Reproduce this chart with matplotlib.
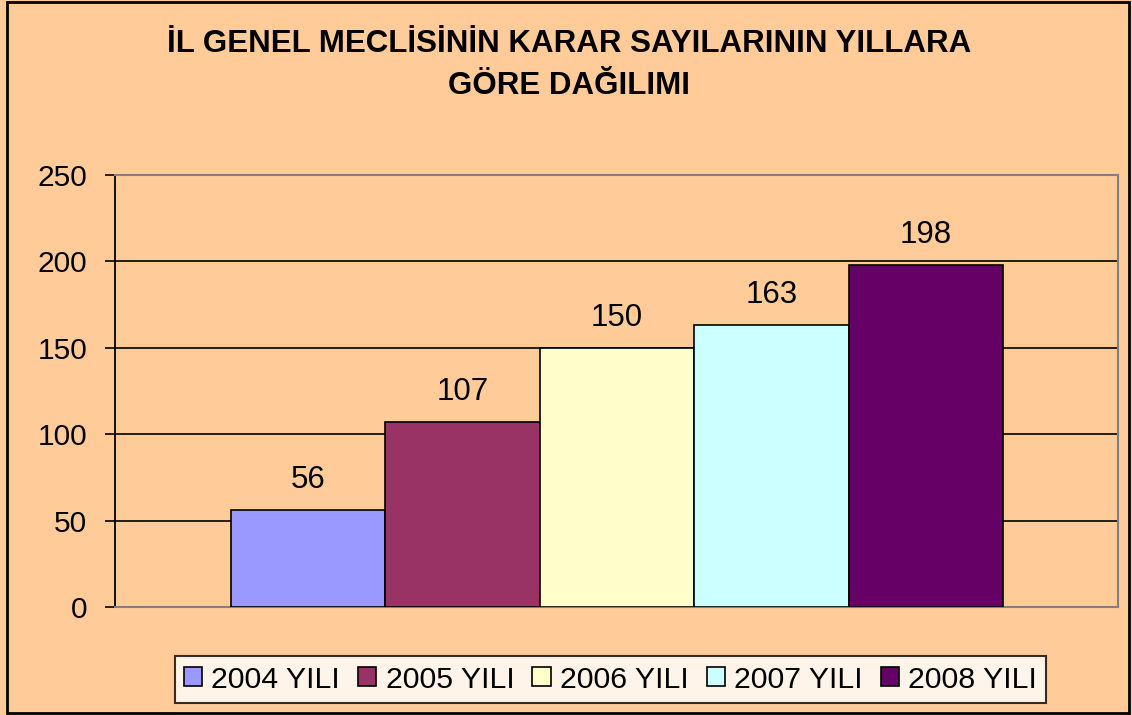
import matplotlib
matplotlib.use("Agg")
import matplotlib.pyplot as plt
from matplotlib.patches import Rectangle

categories = ["2004 YILI", "2005 YILI", "2006 YILI", "2007 YILI", "2008 YILI"]
values = [56, 107, 150, 163, 198]
colors = ["#9999FF", "#993366", "#FFFFCC", "#CCFFFF", "#660066"]
yticks = [0, 50, 100, 150, 200, 250]
title = "İL GENEL MECLİSİNİN KARAR SAYILARININ YILLARA\nGÖRE DAĞILIMI"

plt.rcParams['font.family'] = ['Liberation Sans', 'DejaVu Sans']
bg = "#FFCC99"

fig = plt.figure(figsize=(11.32, 7.15), dpi=100, facecolor=bg)
ax = fig.add_axes([115/1132, 1-607/715, (1118-115)/1132, (607-175)/715])
ax.set_facecolor(bg)

x = list(range(len(values)))
bars = ax.bar(x, values, width=1.0, color=colors, edgecolor="black", linewidth=1.2, zorder=3)
for xi, v in zip(x, values):
    ax.annotate(str(v), (xi, v), xytext=(0, 11), textcoords="offset points",
                ha="center", va="bottom", fontsize=22.5, zorder=4)

ax.set_xlim(-1.2517, 5.245)
ax.set_ylim(0, 250)
ax.set_yticks(yticks)
ax.set_xticks([])
ax.tick_params(axis='y', length=7, width=1.2, pad=13, labelsize=21.5, color="black")
ax.yaxis.grid(True, color="black", linewidth=1.2, zorder=1)
ax.set_axisbelow(True)
ax.spines['left'].set_color("black")
ax.spines['left'].set_linewidth(1.3)
for s in ['top', 'right', 'bottom']:
    ax.spines[s].set_color("#808080")
    ax.spines[s].set_linewidth(1.5)

fig.text(0.503, 1-65/715, title, ha="center", va="center", fontsize=22.5,
         fontweight="bold", linespacing=1.5)

handles = [Rectangle((0, 0), 1, 1, facecolor=c, edgecolor="black", linewidth=1.2) for c in colors]
leg = fig.legend(handles, categories, loc="center", bbox_to_anchor=(610.5/1132, 1-679.5/715),
                 ncol=5, fontsize=21.8, frameon=True, fancybox=False, shadow=False,
                 handlelength=0.6, handleheight=0.6, handletextpad=0.3, columnspacing=0.6,
                 borderpad=0.3, borderaxespad=0)
leg.get_frame().set_edgecolor("black")
leg.get_frame().set_linewidth(1.5)
leg.get_frame().set_facecolor("white")

fig.patches.append(Rectangle((7/1132, 2/715), (1129-7)/1132, (713-2)/715, transform=fig.transFigure,
                             fill=False, edgecolor="black", linewidth=2))

fig.savefig("out.png", dpi=100, facecolor=bg)
